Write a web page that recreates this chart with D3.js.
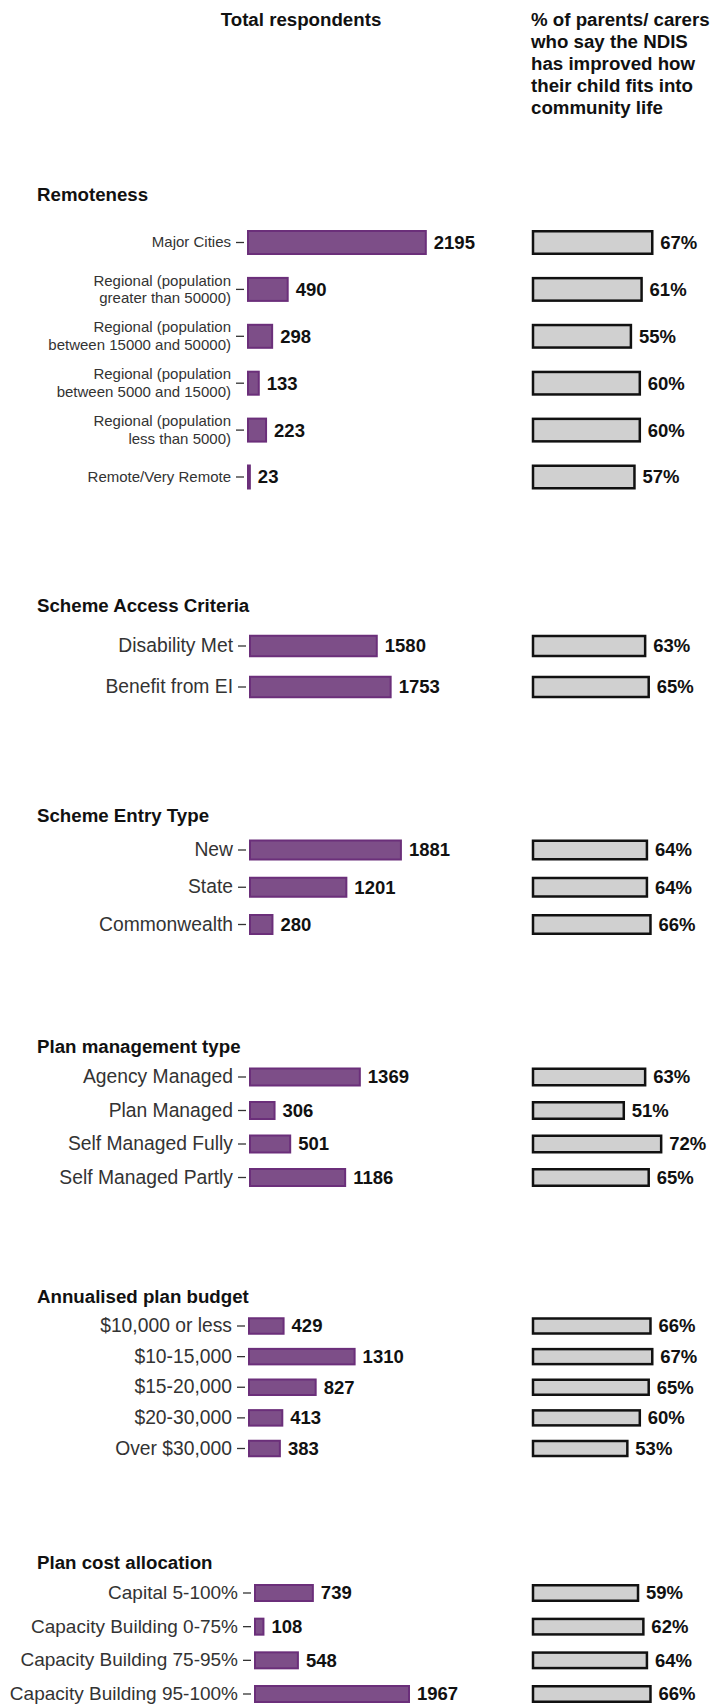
<!DOCTYPE html>
<html>
<head>
<meta charset="utf-8">
<script src="https://cdn.jsdelivr.net/npm/d3@7"></script>
<style>
  body { margin: 0; background: #fff; }
  svg { display: block; font-family: "Liberation Sans", Arial, sans-serif; }
</style>
</head>
<body>
<svg id="chart" width="713" height="1706"></svg>
<script>
// headers
var leftHeader = "Total respondents";
var rightHeader = ["% of parents/ carers", "who say the NDIS", "has improved how", "their child fits into", "community life"];

// data, one set of arrays per section
var remotenessLabels = ["Major Cities", "Regional (population\ngreater than 50000)", "Regional (population\nbetween 15000 and 50000)",
    "Regional (population\nbetween 5000 and 15000)", "Regional (population\nless than 5000)", "Remote/Very Remote"];
var remotenessCounts = [2195, 490, 298, 133, 223, 23];
var remotenessPct = [67, 61, 55, 60, 60, 57];

var accessLabels = ["Disability Met", "Benefit from EI"];
var accessCounts = [1580, 1753];
var accessPct = [63, 65];

var entryLabels = ["New", "State", "Commonwealth"];
var entryCounts = [1881, 1201, 280];
var entryPct = [64, 64, 66];

var mgmtLabels = ["Agency Managed", "Plan Managed", "Self Managed Fully", "Self Managed Partly"];
var mgmtCounts = [1369, 306, 501, 1186];
var mgmtPct = [63, 51, 72, 65];

var budgetLabels = ["$10,000 or less", "$10-15,000", "$15-20,000", "$20-30,000", "Over $30,000"];
var budgetCounts = [429, 1310, 827, 413, 383];
var budgetPct = [66, 67, 65, 60, 53];

var costLabels = ["Capital 5-100%", "Capacity Building 0-75%", "Capacity Building 75-95%", "Capacity Building 95-100%"];
var costCounts = [739, 108, 548, 1967];
var costPct = [59, 62, 64, 66];

var sectionTitles = ["Remoteness", "Scheme Access Criteria", "Scheme Entry Type", "Plan management type",
    "Annualised plan budget", "Plan cost allocation"];

// layout of each panel (positions only)
var layout = [
    {titleY: 194, first: 242.5, last: 477, barH: 25, x0: 247, labelSize: 15},
    {titleY: 605, first: 646, last: 687, barH: 22.5, x0: 249, labelSize: 19.3},
    {titleY: 815, first: 850, last: 924.5, barH: 21, x0: 249, labelSize: 19.3},
    {titleY: 1046, first: 1077, last: 1177.5, barH: 19, x0: 249, labelSize: 19.3},
    {titleY: 1296, first: 1326, last: 1448.5, barH: 17.5, x0: 248, labelSize: 19.3},
    {titleY: 1562, first: 1593, last: 1694, barH: 18, x0: 254, labelSize: 19}
];

var sections = [
    {labels: remotenessLabels, counts: remotenessCounts, pct: remotenessPct},
    {labels: accessLabels, counts: accessCounts, pct: accessPct},
    {labels: entryLabels, counts: entryCounts, pct: entryPct},
    {labels: mgmtLabels, counts: mgmtCounts, pct: mgmtPct},
    {labels: budgetLabels, counts: budgetCounts, pct: budgetPct},
    {labels: costLabels, counts: costCounts, pct: costPct}
];

var purpleFill = "#7d4e88";
var purpleStroke = "#6b2f7a";
var greyFill = "#d0d0d0";
var countRight = 457;
var pctLeft = 533;

var svg = d3.select("#chart");

svg.append("text")
    .attr("x", 301)
    .attr("y", 19.6)
    .attr("dy", "0.35em")
    .attr("text-anchor", "middle")
    .attr("font-weight", "bold")
    .attr("font-size", 18.7)
    .attr("fill", "#111")
    .text(leftHeader);

svg.append("g").selectAll("text")
    .data(rightHeader)
    .enter().append("text")
    .attr("x", 531)
    .attr("y", function(d, i) { return 19.6 + i * 22; })
    .attr("dy", "0.35em")
    .attr("font-weight", "bold")
    .attr("font-size", 18.7)
    .attr("fill", "#111")
    .text(function(d) { return d; });

var pctScale = d3.scaleLinear().domain([0, 100]).range([pctLeft, pctLeft + 178]);

sections.forEach(function(sec, si) {
    var lay = layout[si];
    var n = sec.labels.length;
    var step = n > 1 ? (lay.last - lay.first) / (n - 1) : 40;
    var pad = 1 - lay.barH / step;

    var y = d3.scaleBand()
        .domain(sec.labels)
        .range([lay.first - step / 2, lay.last + step / 2])
        .paddingInner(pad)
        .paddingOuter(pad / 2);

    var x = d3.scaleLinear()
        .domain([0, 2580])
        .range([lay.x0 + 1, countRight]);

    var rows = sec.labels.map(function(l, i) {
        return {label: l, count: sec.counts[i], pct: sec.pct[i]};
    });

    var g = svg.append("g");

    g.append("text")
        .attr("x", 37)
        .attr("y", lay.titleY)
        .attr("dy", "0.35em")
        .attr("font-weight", "bold")
        .attr("font-size", 18.7)
        .attr("fill", "#111")
        .text(sectionTitles[si]);

    // category axis
    var axis = g.append("g")
        .attr("transform", "translate(" + (lay.x0 - 3) + ",0)")
        .call(d3.axisLeft(y).tickSize(8).tickPadding(5));
    axis.select(".domain").remove();
    axis.selectAll(".tick line").attr("stroke", "#333").attr("stroke-width", 1.3);
    axis.selectAll(".tick text")
        .attr("font-family", "Liberation Sans, Arial, sans-serif")
        .attr("font-size", lay.labelSize)
        .attr("fill", "#333")
        .each(function(d) {
            var lines = d.split("\n");
            var t = d3.select(this).text(null);
            var lh = 17.3;
            lines.forEach(function(line, li) {
                t.append("tspan")
                    .attr("x", -13)
                    .attr("dy", li === 0 ? (0.32 * lay.labelSize - (lines.length - 1) * lh / 2) + "px" : lh + "px")
                    .text(line);
            });
            t.attr("dy", null);
        });

    // respondents bars
    g.selectAll(".countBar")
        .data(rows)
        .enter().append("rect")
        .attr("class", "countBar")
        .attr("x", x(0))
        .attr("y", function(d) { return y(d.label) + 1; })
        .attr("width", function(d) { return x(d.count) - x(0); })
        .attr("height", y.bandwidth() - 2)
        .attr("fill", purpleFill)
        .attr("stroke", purpleStroke)
        .attr("stroke-width", 2);

    g.selectAll(".countLabel")
        .data(rows)
        .enter().append("text")
        .attr("class", "countLabel")
        .attr("x", function(d) { return x(d.count) + 8; })
        .attr("y", function(d) { return y(d.label) + y.bandwidth() / 2; })
        .attr("dy", "0.35em")
        .attr("font-weight", "bold")
        .attr("font-size", 18.5)
        .attr("fill", "#111")
        .text(function(d) { return d.count; });

    // percentage bars
    g.selectAll(".pctBar")
        .data(rows)
        .enter().append("rect")
        .attr("class", "pctBar")
        .attr("x", pctScale(0))
        .attr("y", function(d) { return y(d.label) + 1.25; })
        .attr("width", function(d) { return pctScale(d.pct) - pctScale(0); })
        .attr("height", y.bandwidth() - 2.5)
        .attr("fill", greyFill)
        .attr("stroke", "#111")
        .attr("stroke-width", 2.5);

    g.selectAll(".pctLabel")
        .data(rows)
        .enter().append("text")
        .attr("class", "pctLabel")
        .attr("x", function(d) { return pctScale(d.pct) + 8; })
        .attr("y", function(d) { return y(d.label) + y.bandwidth() / 2; })
        .attr("dy", "0.35em")
        .attr("font-weight", "bold")
        .attr("font-size", 18.5)
        .attr("fill", "#111")
        .text(function(d) { return d.pct + "%"; });
});
</script>
</body>
</html>
